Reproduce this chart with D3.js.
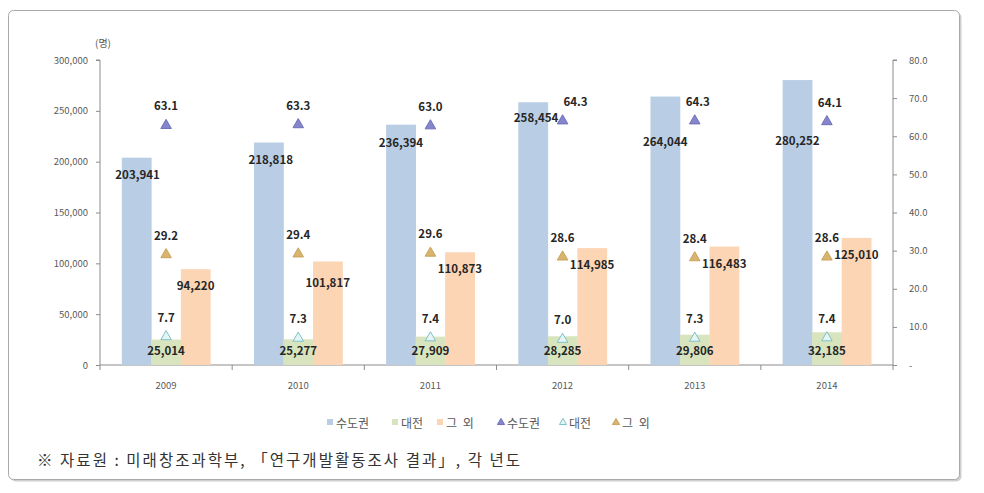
<!DOCTYPE html>
<html><head><meta charset="utf-8">
<script src="https://cdn.jsdelivr.net/npm/d3@7/dist/d3.min.js"></script>
<style>
body{margin:0;background:#fff;}
text{font-family:"Noto Sans CJK KR","Noto Sans",sans-serif;}
</style></head>
<body><svg id="c" width="984" height="493"></svg>
<script>
const years = ["2009","2010","2011","2012","2013","2014"];
const capitalCount = [203941,218818,236394,258454,264044,280252];
const daejeonCount = [25014,25277,27909,28285,29806,32185];
const otherCount = [94220,101817,110873,114985,116483,125010];
const capitalPct = [63.1,63.3,63.0,64.3,64.3,64.1];
const daejeonPct = [7.7,7.3,7.4,7.0,7.3,7.4];
const otherPct = [29.2,29.4,29.6,28.6,28.4,28.6];
const leftTicks = [0,50000,100000,150000,200000,250000,300000];
const rightTicks = [0,10,20,30,40,50,60,70,80];
const legendLabels = ["수도권","대전","그 외","수도권","대전","그 외"];
const unitLabel = "(명)";
const sourceNote = "※ 자료원 : 미래창조과학부, 「연구개발활동조사 결과」, 각 년도";

// label layout tweaks (px), not data
const capLabelDy = [16,16,17,15,44,60];
const capLabelDx = [1,2,0,3,0,0];
const othLabelDy = [16,21,16,16,16,16];
const capPctDx = [0,0,0,13,3,3];

const svg = d3.select("#c");
// frame
svg.append("rect").attr("x",10.5).attr("y",12.5).attr("width",951).attr("height",469).attr("rx",5)
  .attr("fill","#cfcfcf");
svg.append("rect").attr("x",8.5).attr("y",10.5).attr("width",951).attr("height",469).attr("rx",5)
  .attr("fill","#fff").attr("stroke","#a8a8a8").attr("stroke-width",1);

const L=100, R=893, T=60, B=365;
const x = d3.scaleBand().domain(years).range([L,R]).paddingInner(0.33).paddingOuter(0.165);
const yL = d3.scaleLinear().domain([0,300000]).range([B,T]);
const yR = d3.scaleLinear().domain([0,80]).range([B,T]);
const bw = x.bandwidth()/3;

const colBlue="#b9cde5", colGreen="#d7e4bd", colOrange="#fcd5b5";
const triBlue="#8585cc", triGreenStroke="#7cc2c9", triOrange="#d8b46f";

// axes
const axisCol="#8c8c8c", tickTxt="#595959";
const gl = svg.append("g").attr("transform",`translate(${L},0)`)
  .call(d3.axisLeft(yL).tickValues(leftTicks).tickSize(4).tickPadding(8).tickFormat(d3.format(",")));
const gr = svg.append("g").attr("transform",`translate(${R},0)`)
  .call(d3.axisRight(yR).tickValues(rightTicks).tickSize(4).tickPadding(12).tickFormat(d=>d===0?"-":d3.format(".1f")(d)));
[gl,gr].forEach(g=>{
  g.select(".domain").attr("stroke",axisCol);
  g.selectAll(".tick line").attr("stroke",axisCol);
  g.selectAll(".tick text").attr("fill",tickTxt).style("font-size","9.5px");
});
gl.select(".domain").attr("d",`M-4,${T}H0V${B}`);
gr.select(".domain").attr("d",`M4,${T}H0V${B}`);

// x axis
const gx = svg.append("g").attr("transform",`translate(0,${B})`);
gx.append("line").attr("x1",L).attr("x2",R).attr("stroke",axisCol);
const step = x.step();
gx.selectAll("line.t").data(d3.range(years.length+1)).join("line").attr("class","t")
  .attr("x1",i=>L+i*step).attr("x2",i=>L+i*step).attr("y1",0).attr("y2",5).attr("stroke",axisCol);
gx.selectAll("text").data(years).join("text")
  .attr("x",d=>x(d)+x.bandwidth()/2).attr("y",24).attr("text-anchor","middle")
  .attr("fill",tickTxt).style("font-size","9.5px").text(d=>d);

// bars
const series = [
  {vals:capitalCount,col:colBlue,k:0},
  {vals:daejeonCount,col:colGreen,k:1},
  {vals:otherCount,col:colOrange,k:2}
];
series.forEach(s=>{
  svg.append("g").selectAll("rect").data(s.vals).join("rect")
    .attr("x",(d,i)=>x(years[i])+s.k*bw).attr("width",bw+0.3)
    .attr("y",d=>yL(d)).attr("height",d=>B-yL(d)).attr("fill",s.col);
});

// triangles
const tri = d3.symbol().type(d3.symbolTriangle).size(48);
const cx = i=>x(years[i])+x.bandwidth()/2;
function triLayer(vals, fill, stroke){
  svg.append("g").selectAll("path").data(vals).join("path")
    .attr("d",tri).attr("transform",(d,i)=>`translate(${cx(i)},${yR(d)+1})`)
    .attr("fill",fill).attr("stroke",stroke).attr("stroke-width",1);
}
triLayer(capitalPct, triBlue, "#7070bb");
triLayer(daejeonPct, "#e6f4f3", triGreenStroke);
triLayer(otherPct, triOrange, "#c9a35c");

// labels
const lblCol="#262626";
function lbl(data, fx, fy, fmt){
  svg.append("g").selectAll("text").data(data).join("text")
    .attr("x",fx).attr("y",fy).attr("text-anchor","middle").attr("dominant-baseline","central")
    .attr("fill",lblCol).style("font-size","11.5px").style("font-weight","bold").text(fmt);
}
const fc = d3.format(","), f1 = d3.format(".1f");
lbl(capitalCount,(d,i)=>x(years[i])+bw/2+capLabelDx[i],(d,i)=>yL(d)+capLabelDy[i],fc);
lbl(daejeonCount,(d,i)=>x(years[i])+bw*1.5,(d,i)=>B-15,fc);
lbl(otherCount,(d,i)=>x(years[i])+bw*2.5,(d,i)=>yL(d)+othLabelDy[i],fc);
lbl(capitalPct,(d,i)=>cx(i)+capPctDx[i],(d,i)=>yR(d)-19,f1);
lbl(daejeonPct,(d,i)=>cx(i),(d,i)=>yR(d)-19,f1);
lbl(otherPct,(d,i)=>cx(i),(d,i)=>yR(d)-19,f1);

// unit
svg.append("text").attr("x",103).attr("y",47).attr("text-anchor","middle").attr("fill",tickTxt)
  .style("font-size","10px").text(unitLabel);

// legend
const legG = svg.append("g").attr("transform","translate(0,422)");
const legX = [327,392,437,498,560,613];
const legMark = [
  {type:"sq",fill:colBlue},{type:"sq",fill:colGreen},{type:"sq",fill:colOrange},
  {type:"tri",fill:triBlue,stroke:"#7070bb"},{type:"tri",fill:"#e6f4f3",stroke:triGreenStroke},{type:"tri",fill:triOrange,stroke:"#c9a35c"}
];
legendLabels.forEach((t,i)=>{
  const m = legMark[i];
  if(m.type==="sq"){
    legG.append("rect").attr("x",legX[i]).attr("y",-3).attr("width",6).attr("height",6).attr("fill",m.fill);
  } else {
    legG.append("path").attr("d",d3.symbol().type(d3.symbolTriangle).size(22))
      .attr("transform",`translate(${legX[i]+3},0.5)`).attr("fill",m.fill).attr("stroke",m.stroke);
  }
  legG.append("text").attr("x",legX[i]+9).attr("y",0).attr("dominant-baseline","central")
    .attr("fill","#595959").style("font-size","12px").style("word-spacing","3px").text(t);
});

// source
svg.append("text").attr("x",37).attr("y",459).attr("dominant-baseline","central")
  .attr("fill","#333").style("font-size","15.5px")
  .attr("textLength",483).attr("lengthAdjust","spacing").text(sourceNote);
</script></body></html>
